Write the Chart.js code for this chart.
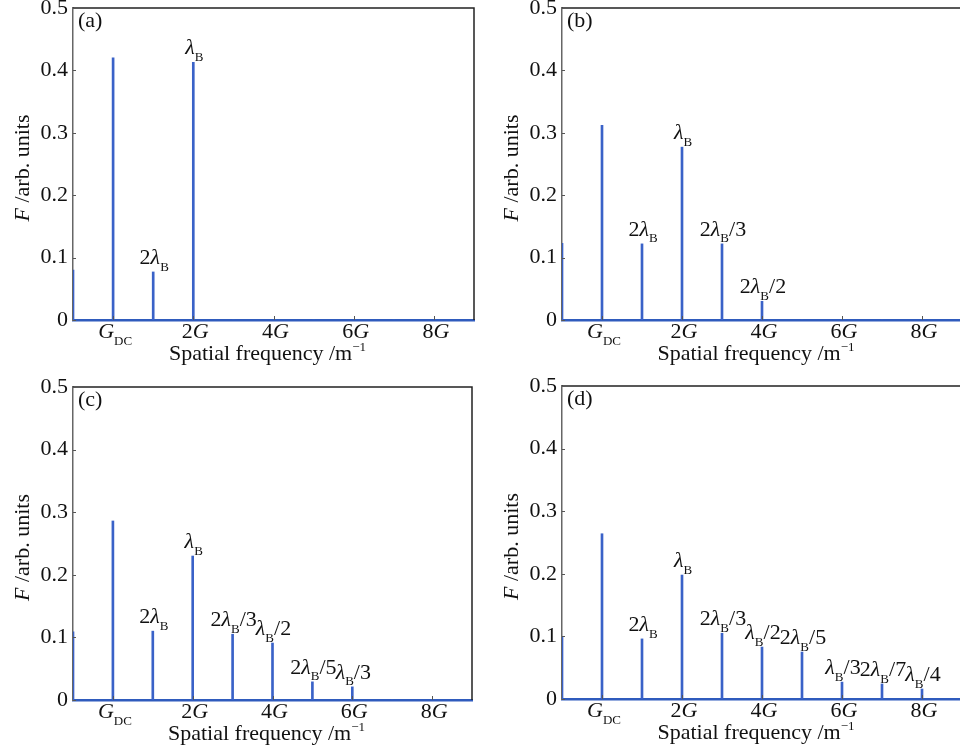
<!DOCTYPE html>
<html>
<head>
<meta charset="utf-8">
<script src="https://cdn.jsdelivr.net/npm/chart.js@4.4.1/dist/chart.umd.min.js"></script>
<style>
  html, body { margin: 0; padding: 0; background: #fff; width: 960px; height: 749px; overflow: hidden; }
  .panel { position: absolute; }
</style>
</head>
<body>
<canvas id="chartA" class="panel" width="480" height="370" style="left:0;top:0"></canvas>
<canvas id="chartB" class="panel" width="490" height="370" style="left:480px;top:0"></canvas>
<canvas id="chartC" class="panel" width="480" height="379" style="left:0;top:370px"></canvas>
<canvas id="chartD" class="panel" width="490" height="379" style="left:480px;top:370px"></canvas>
<script>
// spike positions (in units of the grating period) and amplitudes
const positions = [0, 1, 2, 3, 4, 5, 6, 7, 8, 9];
const valuesA = [0.080, 0.420, 0.077, 0.413, 0, 0, 0, 0, 0, 0];
const valuesB = [0.123, 0.312, 0.122, 0.277, 0.122, 0.030, 0, 0, 0, 0];
const valuesC = [0.109, 0.286, 0.110, 0.230, 0.105, 0.091, 0.029, 0.021, 0, 0];
const valuesD = [0.099, 0.264, 0.096, 0.198, 0.105, 0.083, 0.075, 0.027, 0.024, 0.016];

// peak annotations ("_" = subscript)
const labelsA = ['', '', '2λ_B', 'λ_B', '', '', '', '', '', ''];
const labelsB = ['', '', '2λ_B', 'λ_B', '2λ_B/3', '2λ_B/2', '', '', '', ''];
const labelsC = ['', '', '2λ_B', 'λ_B', '2λ_B/3', 'λ_B/2', '2λ_B/5', 'λ_B/3', '', ''];
const labelsD = ['', '', '2λ_B', 'λ_B', '2λ_B/3', 'λ_B/2', '2λ_B/5', 'λ_B/3', '2λ_B/7', 'λ_B/4'];

const xTickValues = [1, 3, 5, 7, 9];
const xTickLabels = ['G_{DC}', '2G', '4G', '6G', '8G'];
const yTickValues = [0, 0.1, 0.2, 0.3, 0.4, 0.5];

const FONT = '"Liberation Serif", "DejaVu Serif", serif';
const SIZE = 22;
const BLUE = '#3a62c8';
const ITALIC = 'λGF';

function parseRich(str) {
  const re = /_\{([^}]*)\}|\^\{([^}]*)\}|_(.)|([^_^]+)/g;
  const parts = [];
  let m;
  while ((m = re.exec(str))) {
    if (m[1] != null) parts.push({ t: m[1], mode: 'sub' });
    else if (m[2] != null) parts.push({ t: m[2], mode: 'sup' });
    else if (m[3] != null) parts.push({ t: m[3], mode: 'sub' });
    else parts.push({ t: m[4], mode: 'n' });
  }
  const runs = [];
  parts.forEach(p => {
    if (p.mode !== 'n') { runs.push(p); return; }
    p.t.split(/([λGF])/).forEach(s => {
      if (s) runs.push({ t: s, mode: 'n', it: ITALIC.includes(s) });
    });
  });
  return runs;
}

function fontFor(run, size) {
  const s = run.mode === 'n' ? size : Math.round(size * 0.6);
  return `${run.it ? 'italic ' : ''}${s}px ${FONT}`;
}

function drawRich(ctx, str, x, y, size, align) {
  const runs = parseRich(str);
  let w = 0;
  runs.forEach(r => { ctx.font = fontFor(r, size); r.w = ctx.measureText(r.t).width; w += r.w; });
  let cx = align === 'center' ? x - w / 2 : align === 'right' ? x - w : x;
  ctx.textAlign = 'left';
  ctx.textBaseline = 'alphabetic';
  runs.forEach(r => {
    ctx.font = fontFor(r, size);
    const dy = r.mode === 'sub' ? size * 0.3 : r.mode === 'sup' ? -size * 0.4 : 0;
    ctx.fillText(r.t, cx, y + dy);
    cx += r.w;
  });
}

// frame, inward ticks, rich-text tick labels, titles and peak annotations
const decorations = {
  id: 'decorations',
  afterDraw(chart) {
    const { ctx, chartArea: ca, scales: { x, y } } = chart;
    const cfg = chart.options.plugins.decorations;
    ctx.save();

    ctx.strokeStyle = '#222';
    ctx.lineWidth = 1.5;
    ctx.beginPath();
    ctx.moveTo(ca.left, ca.top);
    ctx.lineTo(ca.right, ca.top);
    ctx.lineTo(ca.right, ca.bottom);
    ctx.stroke();

    ctx.strokeStyle = '#555';
    ctx.lineWidth = 1;
    xTickValues.forEach(v => {
      const px = Math.round(x.getPixelForValue(v)) + 0.5;
      ctx.beginPath(); ctx.moveTo(px, ca.bottom); ctx.lineTo(px, ca.bottom - 4); ctx.stroke();
    });
    yTickValues.forEach(v => {
      const py = Math.round(y.getPixelForValue(v)) + 0.5;
      ctx.beginPath(); ctx.moveTo(ca.left, py); ctx.lineTo(ca.left + 3, py); ctx.stroke();
    });

    ctx.fillStyle = '#111';
    xTickValues.forEach((v, i) => {
      drawRich(ctx, xTickLabels[i], x.getPixelForValue(v) + 2, ca.bottom + 18, SIZE, 'center');
    });
    drawRich(ctx, 'Spatial frequency /m^{−1}', (ca.left + ca.right) / 2 - 6, ca.bottom + 40, SIZE, 'center');

    ctx.save();
    ctx.translate(ca.left - 51, (ca.top + ca.bottom) / 2 + 4);
    ctx.rotate(-Math.PI / 2);
    drawRich(ctx, 'F /arb. units', 0, 7, SIZE, 'center');
    ctx.restore();

    drawRich(ctx, cfg.tag, ca.left + 5, ca.top + 19, SIZE, 'left');

    cfg.labels.forEach((lab, i) => {
      if (!lab) return;
      const px = x.getPixelForValue(positions[i]);
      const py = y.getPixelForValue(cfg.values[i]);
      drawRich(ctx, lab, px + 1, py - 8, SIZE, 'center');
    });
    ctx.restore();
  }
};

function makePanel(id, values, labels, tag, pad) {
  return new Chart(document.getElementById(id), {
    type: 'bar',
    data: {
      datasets: [{
        data: positions.map((p, i) => ({ x: p, y: values[i] })),
        backgroundColor: BLUE,
        borderWidth: 0,
        barThickness: 2,
      }],
    },
    options: {
      responsive: false,
      animation: false,
      layout: { padding: { top: pad.top, right: pad.right, left: 0, bottom: 0 } },
      plugins: {
        legend: { display: false },
        tooltip: { enabled: false },
        decorations: { tag, labels, values },
      },
      scales: {
        x: {
          type: 'linear',
          min: 0,
          max: 10,
          offset: false,
          ticks: { display: false, stepSize: 1 },
          grid: { display: false, drawTicks: false },
          border: { display: true, color: '#2f5bbd', width: 2.5 },
          afterFit: s => { s.height = pad.bottom; s.paddingLeft = 0; s.paddingRight = 0; },
        },
        y: {
          min: 0,
          max: 0.5,
          ticks: {
            stepSize: 0.1,
            color: '#111',
            padding: 5,
            font: { family: FONT, size: SIZE },
            callback: v => (v === 0 ? '0' : v.toFixed(1)),
          },
          grid: { display: false, drawTicks: false },
          border: { display: true, color: '#666', width: 1.5 },
          afterFit: s => { s.width = pad.left; s.paddingTop = 0; s.paddingBottom = 0; },
        },
      },
    },
    plugins: [decorations],
  });
}

makePanel('chartA', valuesA, labelsA, '(a)', { top: 8, right: 6, left: 73, bottom: 50 });
makePanel('chartB', valuesB, labelsB, '(b)', { top: 8, right: 8, left: 82, bottom: 50 });
makePanel('chartC', valuesC, labelsC, '(c)', { top: 17, right: 8, left: 73, bottom: 49 });
makePanel('chartD', valuesD, labelsD, '(d)', { top: 16, right: 8, left: 82, bottom: 50 });
</script>
</body>
</html>
